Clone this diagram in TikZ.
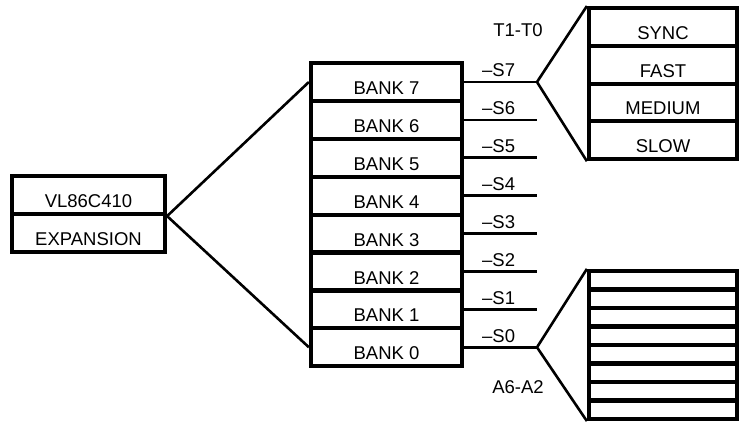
\documentclass[tikz,border=0pt]{standalone}
\usepackage{fontspec}
\setmainfont{Liberation Sans}
\usepackage{tikz}

\begin{document}
\begin{tikzpicture}[x=1pt,y=-1pt,font=\fontsize{18.5}{20}\selectfont,
    cell/.style={draw,line width=4.2pt,inner sep=0pt,text height=25pt,text depth=0pt},
    bank/.style={cell,minimum width=151pt,minimum height=37.9pt},
    wire/.style={line width=2.6pt}]
  \useasboundingbox (0,0) rectangle (744,422);
  % controller
  \node[cell,minimum width=153pt,minimum height=38pt] (vl) at (88.5,195) {VL86C410};
  \node[cell,minimum width=153pt,minimum height=38pt] (exp) at (88.5,233) {EXPANSION};
  % banks and select lines
  \foreach \i in {0,...,7} {
    \node[bank] (b\i) at (386.5,{82+(7-\i)*37.9}) {BANK \i};
    \coordinate (e\i) at (537,{82+(7-\i)*37.9});
    \draw[wire] (b\i.east) -- (e\i);
    \node[anchor=base west,inner sep=0pt] (s\i) at (482,{77+(7-\i)*37.9}) {–S\i};
  }
  \draw[wire] (b7.west) -- (vl.south east) -- (b0.west);
  % timing
  \foreach \t [count=\k from 0] in {SYNC,FAST,MEDIUM,SLOW}
    \node[cell,minimum width=148pt,minimum height=37.75pt] (t\k) at (663,{27+\k*37.75}) {\t};
  \draw[wire] (t0.north west) -- (e7) -- (t3.south west);
  \node[anchor=base,inner sep=0pt] (tt) at (518,37) {T1-T0};
  % address
  \foreach \k in {0,...,7}
    \node[cell,text height=0pt,minimum width=148pt,minimum height=18.5pt] (a\k) at (663,{280.25+\k*18.5}) {};
  \draw[wire] (a0.north west) -- (e0) -- (a7.south west);
  \node[anchor=base,inner sep=0pt] (aa) at (518,393) {A6-A2};
\end{tikzpicture}
\end{document}
